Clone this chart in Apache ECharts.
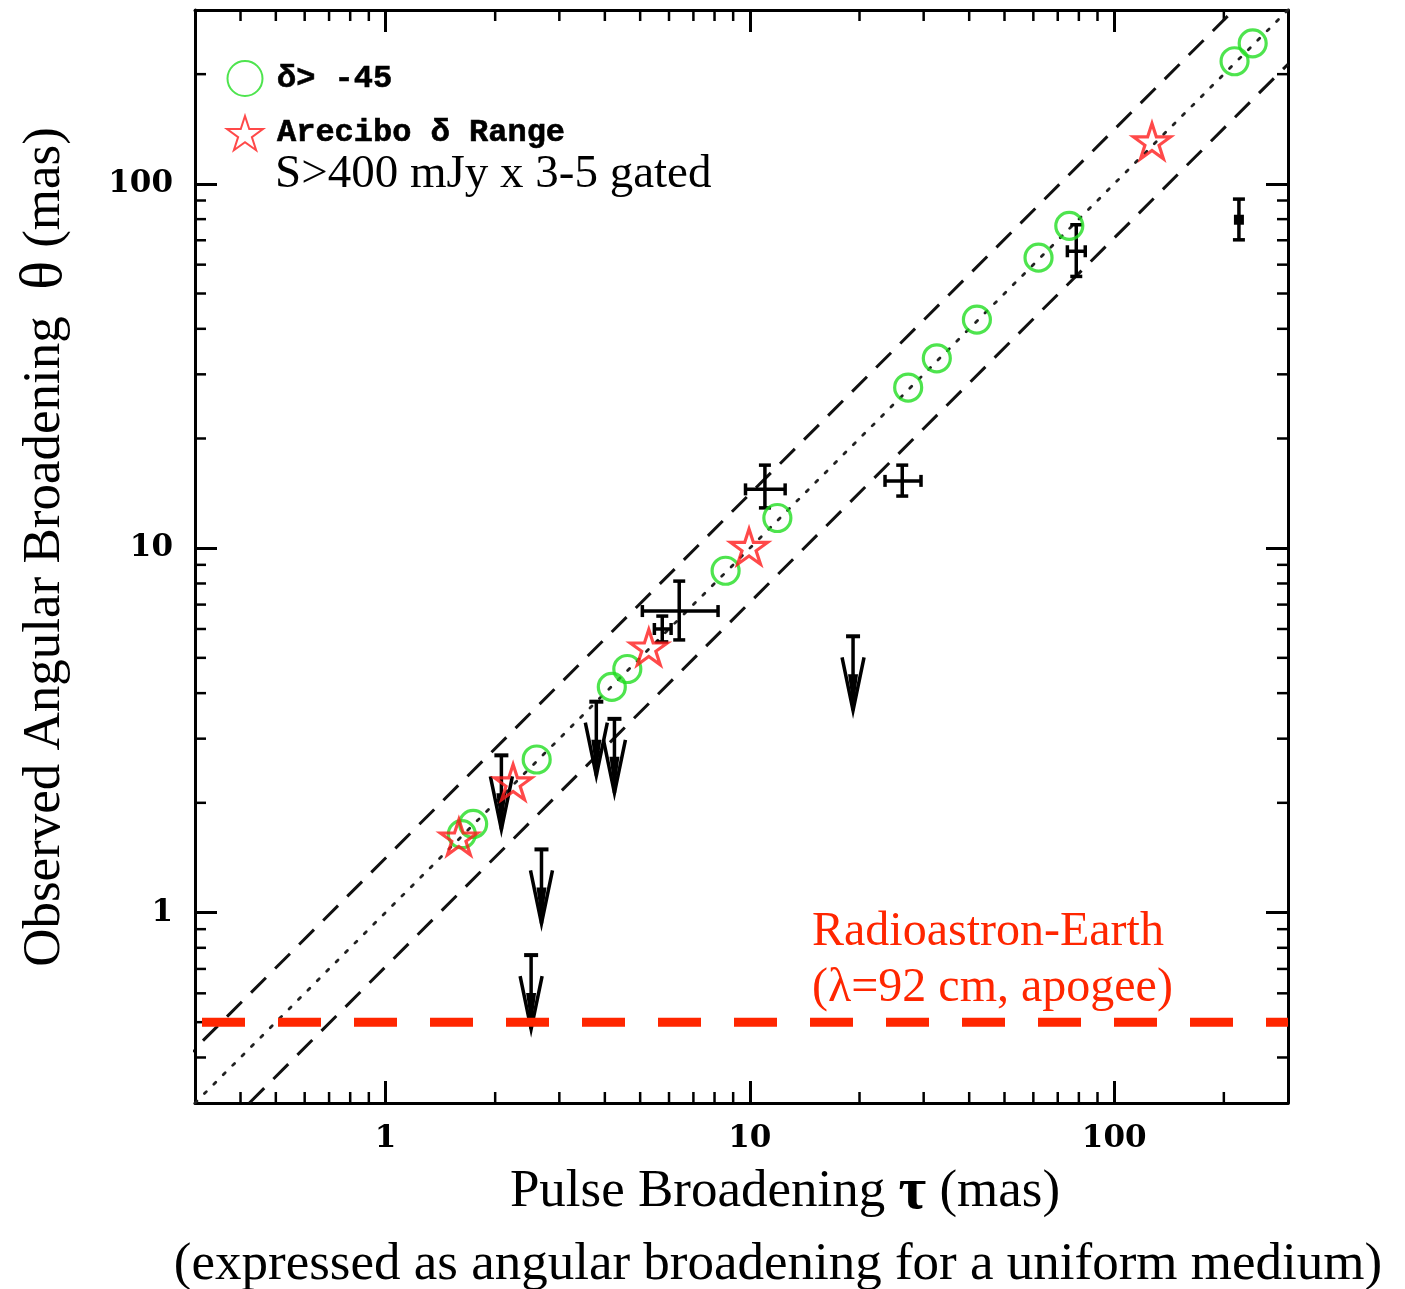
<!DOCTYPE html>
<html><head><meta charset="utf-8">
<script src="https://cdn.jsdelivr.net/npm/echarts@6/dist/echarts.min.js"></script>
<style>html,body{margin:0;padding:0;background:#fff}#c{width:1405px;height:1289px}</style>
</head><body><div id="c"></div>
<script>
// ---- data ----
const tickLabels = [1, 10, 100];
const minorTicks = [0.4,0.5,0.6,0.7,0.8,0.9,2,3,4,5,6,7,8,9,20,30,40,50,60,70,80,90,200];
const axisMin = 0.3, axisMax = 300;
// green circles: delta > -45   [tau, theta]
const northSources = [[1.62,1.64],[1.74,1.75],[2.60,2.63],[4.18,4.16],[4.61,4.66],[8.58,8.67],[11.9,12.1],[27.2,27.6],[32.6,33.2],[42.0,42.4],[62.0,62.7],[75.3,76.7],[214,217],[240,243]];
// red stars: Arecibo delta range
const areciboSources = [[1.59,1.61],[2.24,2.28],[5.28,5.35],[9.95,10.1],[127,131]];
// measured points with errors [tau, theta, tauLo, tauHi, thetaLo, thetaHi]
const measured = [[11.0,14.5,9.73,12.5,12.9,16.9],[26.2,15.3,23.5,29.5,13.9,16.9],[78.7,65.3,74.4,83.3,55.7,77.2],[6.40,6.72,5.07,8.18,5.60,8.12],[5.75,6.00,5.47,6.08,5.53,6.51]];
// filled square [tau, theta, thetaLo, thetaHi]
const squarePoints = [[220,79.7,70.2,90.8]];
// upper limits [tau, theta limit]
const upperLimits = [[2.08,2.70],[3.79,3.79],[4.25,3.40],[2.68,1.49],[2.51,0.764],[19.2,5.73]];
// reference lines
const unityLine = [[0.3,0.3],[300,300]];
const upperBand = [[0.2,0.282],[213,300]];
const lowerBand = [[0.423,0.3],[300,213]];
const radioastronLine = [[0.3,0.5],[300,0.5]];

const GREEN = '#22dd22', RED = '#ff1c1c', ORANGE = '#ff2600';
const starPath = 'path://M0,-50L11.23,-15.45L47.55,-15.45L18.16,5.9L29.39,40.45L0,19.1L-29.39,40.45L-18.16,5.9L-47.55,-15.45L-11.23,-15.45Z';
const SERIF = '"Liberation Serif","Times New Roman",serif';

const chart = echarts.init(document.getElementById('c'), null, {renderer:'canvas'});

function isMajor(v){ for (const t of tickLabels){ if (Math.abs(v-t)/t < 1e-6) return t; } return null; }

const axisCommon = {
  type:'log', logBase:10, min:axisMin, max:axisMax,
  axisLine:{show:true, onZero:false, lineStyle:{color:'#000', width:3}},
  axisTick:{show:true, inside:true, length:22, lineStyle:{color:'#000', width:3}},
  minorTick:{show:false},
  splitLine:{show:false}
};
const labelStyle = {fontFamily:'"DejaVu Serif",serif', fontWeight:'bold', fontSize:31, color:'#000',
  formatter: v => { const t = isMajor(v); return t === null ? '' : String(t); }};

function seg(x1,y1,x2,y2,w){ return {type:'line', shape:{x1,y1,x2,y2}, style:{stroke:'#000', lineWidth:w||3.5}}; }

const option = {
  animation:false,
  backgroundColor:'#fff',
  grid:{left:195, right:117, top:10, bottom:186, containLabel:false},
  xAxis:[
    Object.assign({}, axisCommon, {position:'bottom', axisLabel:Object.assign({show:true, margin:20}, labelStyle)}),
    Object.assign({}, axisCommon, {position:'top', axisLabel:{show:false}})
  ],
  yAxis:[
    Object.assign({}, axisCommon, {position:'left', axisLabel:Object.assign({show:true, margin:22}, labelStyle)}),
    Object.assign({}, axisCommon, {position:'right', axisLabel:{show:false}})
  ],
  legend:{
    left:221, top:55, orient:'vertical', itemGap:18, itemWidth:36, itemHeight:35,
    selectedMode:false,
    textStyle:{fontFamily:'"Liberation Mono",monospace', fontWeight:'bold', fontSize:32, color:'#000', padding:[0,0,0,9],
      textBorderColor:'#000', textBorderWidth:0.6},
    data:[{name:'δ> -45', icon:'circle'},{name:'Arecibo δ Range', icon:starPath}]
  },
  series:[
    {type:'custom', name:'minorTicks', silent:true, z:1, data:minorTicks.map(v=>[v,v]),
     renderItem:(p, api)=>{
       const v = api.value(0);
       const b = api.coord([v, axisMin]), t = api.coord([v, axisMax]);
       const l = api.coord([axisMin, v]), r = api.coord([axisMax, v]);
       return {type:'group', children:[
         seg(b[0],b[1],b[0],b[1]-11,2.5), seg(t[0],t[1],t[0],t[1]+11,2.5),
         seg(l[0],l[1],l[0]+11,l[1],2.5), seg(r[0],r[1],r[0]-11,r[1],2.5)
       ]};
     }},
    {type:'line', name:'unity', data:unityLine, symbol:'none', z:2, silent:true,
     lineStyle:{color:'#222', width:2.8, type:[2.8,10.5], cap:'round'}},
    {type:'line', name:'upper', data:upperBand, symbol:'none', z:2, silent:true,
     lineStyle:{color:'#111', width:3, type:[21,13]}},
    {type:'line', name:'lower', data:lowerBand, symbol:'none', z:2, silent:true,
     lineStyle:{color:'#111', width:3, type:[21,13]}},
    {type:'custom', name:'errors', z:3, data:measured,
     renderItem:(p, api)=>{
       const x=api.value(0), y=api.value(1);
       const c = api.coord([x,y]);
       const xl = api.coord([api.value(2), y])[0], xh = api.coord([api.value(3), y])[0];
       const yl = api.coord([x, api.value(4)])[1], yh = api.coord([x, api.value(5)])[1];
       const k = 6;
       return {type:'group', children:[
         seg(xl,c[1],xh,c[1]), seg(c[0],yl,c[0],yh),
         seg(xl,c[1]-k,xl,c[1]+k), seg(xh,c[1]-k,xh,c[1]+k),
         seg(c[0]-k,yl,c[0]+k,yl), seg(c[0]-k,yh,c[0]+k,yh)
       ]};
     }},
    {type:'custom', name:'square', z:3, data:squarePoints,
     renderItem:(p, api)=>{
       const x=api.value(0), y=api.value(1);
       const c = api.coord([x,y]);
       const yl = api.coord([x, api.value(2)])[1], yh = api.coord([x, api.value(3)])[1];
       const k = 6;
       return {type:'group', children:[
         seg(c[0],yl,c[0],yh), seg(c[0]-k,yl,c[0]+k,yl), seg(c[0]-k,yh,c[0]+k,yh),
         {type:'rect', shape:{x:c[0]-5,y:c[1]-5,width:10,height:10}, style:{fill:'#000'}}
       ]};
     }},
    {type:'custom', name:'limits', z:3, data:upperLimits,
     renderItem:(p, api)=>{
       const c = api.coord([api.value(0), api.value(1)]);
       const L = 74, x=c[0], y=c[1];
       return {type:'group', children:[
         seg(x-7,y,x+7,y,4), seg(x,y,x,y+L,3.5),
         {type:'polyline', shape:{points:[[x-11,y+21],[x,y+L],[x+11,y+21]]}, style:{stroke:'#000', lineWidth:3.5, fill:null}},
         {type:'polygon', shape:{points:[[x-5,y+38],[x,y+L],[x+5,y+38]]}, style:{fill:'#000'}}
       ]};
     }},
    {type:'scatter', name:'δ> -45', data:northSources, symbol:'circle', symbolSize:27, z:4,
     itemStyle:{color:'rgba(255,255,255,0)', borderColor:GREEN, borderWidth:3.2}},
    {type:'scatter', name:'Arecibo δ Range', data:areciboSources, symbol:starPath, symbolSize:37, symbolKeepAspect:true, z:5,
     itemStyle:{color:'rgba(255,255,255,0)', borderColor:RED, borderWidth:3.2}},
    {type:'line', name:'radioastron', data:radioastronLine, symbol:'none', z:6, silent:true,
     lineStyle:{color:ORANGE, width:9, type:[43,33], dashOffset:69, cap:'butt'}}
  ],
  graphic:[
    {type:'text', left:275, top:151, style:{text:'S>400 mJy x 3-5 gated', font:'47px '+SERIF, fill:'#000'}},
    {type:'text', left:812, top:908, style:{text:'Radioastron-Earth', font:'48px '+SERIF, fill:ORANGE}},
    {type:'text', left:812, top:964, style:{text:'(λ=92 cm, apogee)', font:'48px '+SERIF, fill:ORANGE}},
    {type:'text', x:785, y:1192, style:{text:'{n|Pulse Broadening }{s|τ}{n| (mas)}', align:'center', verticalAlign:'middle',
      rich:{n:{font:'53px '+SERIF, fill:'#000'}, s:{font:'bold 60px '+SERIF, fill:'#000'}}}},
    {type:'text', x:778, y:1265, style:{text:'(expressed as angular broadening for a uniform medium)', font:'53px '+SERIF, fill:'#000', align:'center', verticalAlign:'middle'}},
    {type:'text', x:45, y:547, rotation:Math.PI/2, style:{text:'{n|Observed Angular Broadening  }{s|θ}{n| (mas)}', align:'center', verticalAlign:'middle',
      rich:{n:{font:'53px '+SERIF, fill:'#000'}, s:{font:'60px '+SERIF, fill:'#000'}}}}
  ]
};
chart.setOption(option);
</script>
</body></html>
